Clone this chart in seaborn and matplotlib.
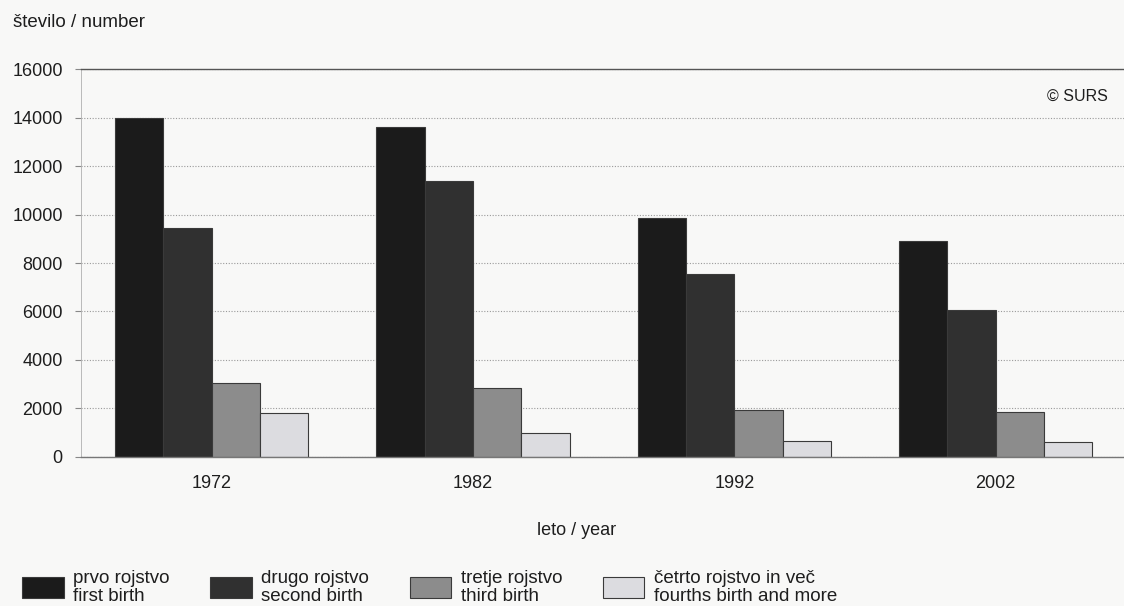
import pandas as pd
import seaborn as sns
import matplotlib.pyplot as plt

years = ['1972', '1982', '1992', '2002']
first_birth = [14000, 13600, 9850, 8900]
second_birth = [9450, 11400, 7550, 6050]
third_birth = [3050, 2850, 1950, 1850]
fourth_birth = [1800, 1000, 650, 600]

series_labels = ['prvo rojstvo\nfirst birth',
                 'drugo rojstvo\nsecond birth',
                 'tretje rojstvo\nthird birth',
                 'četrto rojstvo in več\nfourths birth and more']
series_values = [first_birth, second_birth, third_birth, fourth_birth]

rows = []
for label, vals in zip(series_labels, series_values):
    for y, v in zip(years, vals):
        rows.append({'leto': y, 'stevilo': v, 'rojstvo': label})
df = pd.DataFrame(rows)

sns.set_theme(style='white')
plt.rcParams['font.family'] = ['Liberation Sans', 'DejaVu Sans']

bg = '#f8f8f7'
ink = '#1e1e1e'
colors = ['#1b1b1b', '#303030', '#8c8c8c', '#dcdce0']

fig = plt.figure(figsize=(11.24, 6.06), dpi=100, facecolor=bg)
ax = fig.add_axes([0.072, 0.246, 0.93, 0.640], facecolor=bg)

sns.barplot(data=df, x='leto', y='stevilo', hue='rojstvo', order=years,
            hue_order=series_labels, palette=colors, saturation=1,
            width=0.74, gap=0, edgecolor='#3a3a3a', linewidth=0.8, ax=ax)

ax.set_ylim(0, 16000)
ax.set_xlim(-0.5, 3.5)
ax.set_yticks(range(0, 16001, 2000))
ax.set_yticklabels([str(v) for v in range(0, 16001, 2000)], fontsize=13, color=ink)
ax.tick_params(axis='x', labelsize=13, colors=ink, length=0, pad=13)
ax.tick_params(axis='y', length=4, width=0.8, color='#888888', left=True, pad=9)

ax.yaxis.grid(True, color='#9a9a9a', linewidth=0.8, linestyle=(0, (1, 1.5)))
ax.set_axisbelow(True)
ax.spines['right'].set_visible(False)
ax.spines['top'].set_color('#555555')
ax.spines['top'].set_linewidth(1.0)
ax.spines['bottom'].set_color('#777777')
ax.spines['bottom'].set_linewidth(1.0)
ax.spines['left'].set_color('#b0b0b0')
ax.spines['left'].set_linewidth(0.6)

ax.set_xlabel('')
ax.set_ylabel('')

handles, labels = ax.get_legend_handles_labels()
ax.get_legend().remove()
leg = fig.legend(handles, labels, loc='lower left', bbox_to_anchor=(0.019, 0.0),
                 ncol=4, frameon=False, fontsize=13.5, handlelength=2.2, handleheight=1.33,
                 handletextpad=0.53, columnspacing=2.15, borderpad=0, borderaxespad=0.05)
for t in leg.get_texts():
    t.set_color(ink)
    t.set_linespacing(1.08)

fig.text(0.012, 0.963, 'število / number', fontsize=13.5, color=ink, va='center')
fig.text(0.986, 0.841, '© SURS', fontsize=11.5, color=ink, ha='right', va='center')
fig.text(0.513, 0.125, 'leto / year', fontsize=13, color=ink, ha='center', va='center')

fig.savefig('out.png', dpi=100, facecolor=bg)
